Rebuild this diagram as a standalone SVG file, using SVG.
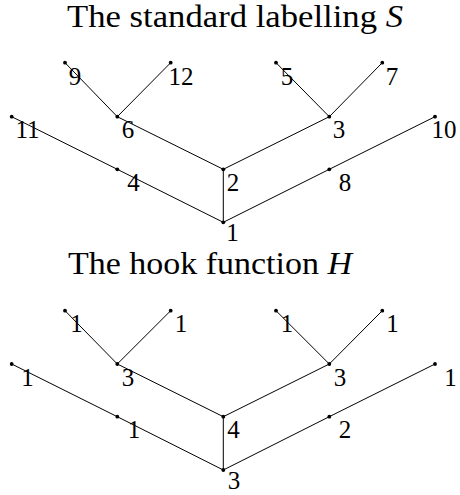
<svg xmlns="http://www.w3.org/2000/svg" width="460" height="495" viewBox="0 0 460 495">
<style>
.t{font-family:"Liberation Serif","Times New Roman",serif;font-size:31px;fill:#000}
.l{font-family:"Liberation Serif","Times New Roman",serif;font-size:25px;fill:#000;text-anchor:middle}
.e{stroke:#000;stroke-width:1;fill:none}
.d{fill:#000}
</style>
<rect width="460" height="495" fill="#fff"/>
<text class="t" x="67" y="27" textLength="336" lengthAdjust="spacingAndGlyphs">The standard labelling <tspan font-style="italic">S</tspan></text>
<text class="t" x="68" y="274" textLength="284" lengthAdjust="spacingAndGlyphs">The hook function <tspan font-style="italic">H</tspan></text>
<g id="connectors">
<g id="edges-S">
<path class="e" d="M65,62.7L117.3,116.7L170.7,62.7M276,62.7L329.3,116.7L382.3,62.7M117.3,116.7L223.3,169.3L329.3,116.7M223.3,169.3L223.3,222.3M11.7,116.7L117.3,169.3L223.3,222.3L329.3,169.3L435,116.7"/>
</g>
<g id="edges-H">
<path class="e" d="M65,310.7L117.3,364L170.7,310.7M276,310.7L329.3,364L382.3,310.7M117.3,364L223.3,416.7L329.3,364M223.3,416.7L223.3,470M11.7,364L117.3,416.7L223.3,470L329.3,416.7L435,364"/>
</g>
</g>
<g id="tree-S">
<g id="s9"><circle class="d" cx="65" cy="62.7" r="1.9"/><text class="l" x="75" y="85">9</text></g>
<g id="s12"><circle class="d" cx="170.7" cy="62.7" r="1.9"/><text class="l" x="181" y="85">12</text></g>
<g id="s5"><circle class="d" cx="276" cy="62.7" r="1.9"/><text class="l" x="287" y="85">5</text></g>
<g id="s7"><circle class="d" cx="382.3" cy="62.7" r="1.9"/><text class="l" x="392" y="85">7</text></g>
<g id="s11"><circle class="d" cx="11.7" cy="116.7" r="1.9"/><text class="l" x="27.5" y="138">11</text></g>
<g id="s6"><circle class="d" cx="117.3" cy="116.7" r="1.9"/><text class="l" x="128" y="138">6</text></g>
<g id="s3"><circle class="d" cx="329.3" cy="116.7" r="1.9"/><text class="l" x="339" y="138">3</text></g>
<g id="s10"><circle class="d" cx="435" cy="116.7" r="1.9"/><text class="l" x="444" y="138">10</text></g>
<g id="s4"><circle class="d" cx="117.3" cy="169.3" r="1.9"/><text class="l" x="133.5" y="191">4</text></g>
<g id="s2"><circle class="d" cx="223.3" cy="169.3" r="1.9"/><text class="l" x="233" y="191">2</text></g>
<g id="s8"><circle class="d" cx="329.3" cy="169.3" r="1.9"/><text class="l" x="345" y="191">8</text></g>
<g id="s1"><circle class="d" cx="223.3" cy="222.3" r="1.9"/><text class="l" x="232.5" y="241">1</text></g>
</g>
<g id="tree-H">
<g id="h9"><circle class="d" cx="65" cy="310.7" r="1.9"/><text class="l" x="76.5" y="332">1</text></g>
<g id="h12"><circle class="d" cx="170.7" cy="310.7" r="1.9"/><text class="l" x="181" y="332">1</text></g>
<g id="h5"><circle class="d" cx="276" cy="310.7" r="1.9"/><text class="l" x="287" y="332">1</text></g>
<g id="h7"><circle class="d" cx="382.3" cy="310.7" r="1.9"/><text class="l" x="392.5" y="332">1</text></g>
<g id="h11"><circle class="d" cx="11.7" cy="364" r="1.9"/><text class="l" x="27.5" y="385.5">1</text></g>
<g id="h6"><circle class="d" cx="117.3" cy="364" r="1.9"/><text class="l" x="128" y="385.5">3</text></g>
<g id="h3"><circle class="d" cx="329.3" cy="364" r="1.9"/><text class="l" x="340" y="385.5">3</text></g>
<g id="h10"><circle class="d" cx="435" cy="364" r="1.9"/><text class="l" x="450.5" y="385.5">1</text></g>
<g id="h4"><circle class="d" cx="117.3" cy="416.7" r="1.9"/><text class="l" x="134" y="438">1</text></g>
<g id="h2"><circle class="d" cx="223.3" cy="416.7" r="1.9"/><text class="l" x="233.5" y="438">4</text></g>
<g id="h8"><circle class="d" cx="329.3" cy="416.7" r="1.9"/><text class="l" x="345" y="438">2</text></g>
<g id="h1"><circle class="d" cx="223.3" cy="470" r="1.9"/><text class="l" x="234" y="489">3</text></g>
</g>
</svg>
